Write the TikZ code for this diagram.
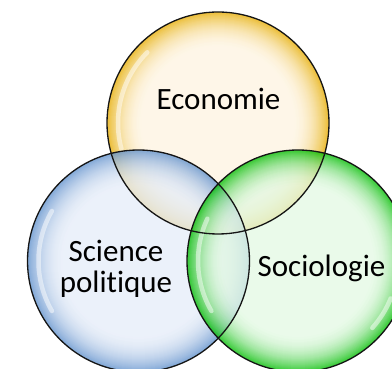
\documentclass[tikz,border=0pt]{standalone}
\usepackage{fontspec}
\setmainfont{Carlito}[Ligatures={NoCommon}, RawFeature={-liga;-dlig;-clig}]
\definecolor{yIn}{HTML}{FEF4E2}
\definecolor{yOut}{HTML}{E6AC00}
\definecolor{bIn}{HTML}{E6EDF8}
\definecolor{bOut}{HTML}{5F90CC}
\definecolor{gIn}{HTML}{E4F9E4}
\definecolor{gOut}{HTML}{00BC00}
\definecolor{ringline}{HTML}{151515}
\tikzset{
  ring/.style={draw=ringline, line width=1.3pt},
  shine/.style={draw=white, line width=4.5pt, line cap=round, opacity=0.5},
  lbl/.style={font=\fontsize{31}{31}\selectfont, text=black, anchor=base, inner sep=0pt}
}
\newcommand{\bubble}[3]{%
  \begin{scope}[transparency group, opacity=0.78]
    \foreach \r in {111,110,...,72} {
      \pgfmathtruncatemacro{\p}{100*((\r-72)/39)^2.2}
      \fill[#2!\p!#3] (#1) circle (\r);
    }
  \end{scope}}
\begin{document}
\begin{tikzpicture}[x=1pt,y=1pt]
\useasboundingbox (0,0) rectangle (392,369);
\coordinate (ce) at (218,246);
\coordinate (cb) at (138.5,108);
\coordinate (cg) at (298,108);
\bubble{ce}{yOut}{yIn}
\bubble{cb}{bOut}{bIn}
\bubble{cg}{gOut}{gIn}
\draw[shine] (ce) ++(135:100) arc (135:195:100);
\draw[shine] (cb) ++(150:100) arc (150:210:100);
\draw[shine] (cg) ++(155:100) arc (155:210:100);
\draw[shine] (cg) ++(-22:100) arc (-22:-42:100);
\draw[ring] (ce) circle (111);
\draw[ring] (cb) circle (111);
\draw[ring] (cg) circle (111);
\node[lbl] (eco) at (218.5,259) {Economie};
\node[lbl] (sci) at (116,107) {Science};
\node[lbl] (pol) at (116,76) {politique};
\node[lbl] (soc) at (321.5,92) {Sociologie};
\end{tikzpicture}
\end{document}
